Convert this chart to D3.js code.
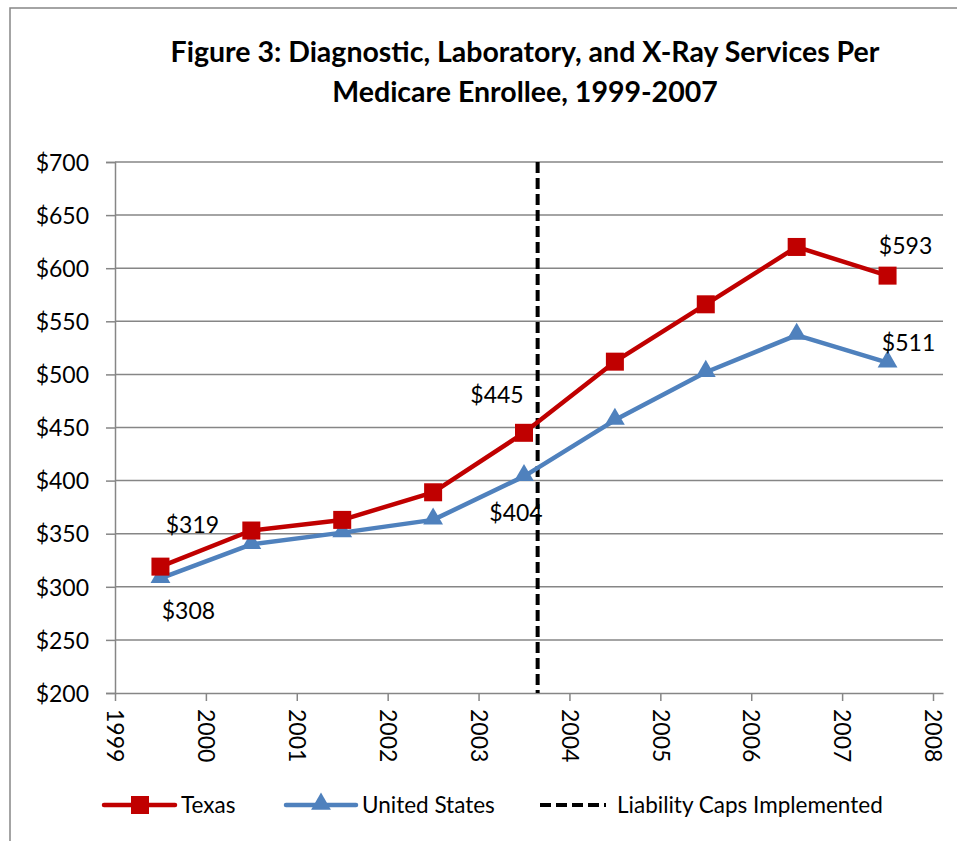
<!DOCTYPE html>
<html>
<head>
<meta charset="utf-8">
<script src="https://cdn.jsdelivr.net/npm/d3@7"></script>
<style>
  body { margin: 0; background: #fff; }
  text { font-family: Lato, "Open Sans", sans-serif; fill: #000; }
</style>
</head>
<body>
<div id="chart"></div>
<script>
// data (values plotted at mid-year)
const years = [1999, 2000, 2001, 2002, 2003, 2004, 2005, 2006, 2007];
const texas = [319, 353, 363, 389, 445, 512, 566, 620, 593];
const unitedStates = [308, 340, 351, 363, 404, 457, 502, 537, 511];
const yTicks = [200, 250, 300, 350, 400, 450, 500, 550, 600, 650, 700];
const xTicks = [1999, 2000, 2001, 2002, 2003, 2004, 2005, 2006, 2007, 2008];
const capsYear = 2003.65;
// which points get a value label: [index, dx, dy]
const texasLabels = [[0, 32, -42], [4, -27, -38], [8, 18, -30]];
const usLabels = [[0, 28, 32], [4, -8, 36], [8, 21, -20]];

const W = 957, H = 841;
const margin = { top: 162, right: 14, bottom: 148, left: 115 };
const width = W - margin.left - margin.right,
  height = H - margin.top - margin.bottom;

const svg = d3.select("#chart")
  .append("svg")
  .attr("width", W)
  .attr("height", H);

// outer chart frame (cut at right/bottom like the picture)
svg.append("rect")
  .attr("x", 10).attr("y", 8)
  .attr("width", W + 20).attr("height", H + 20)
  .attr("fill", "none")
  .attr("stroke", "#868686")
  .attr("stroke-width", 1.5);

// title
const title = svg.append("text")
  .attr("text-anchor", "middle")
  .style("font-size", "28.5px")
  .style("font-weight", "bold");
title.append("tspan").attr("x", 525).attr("y", 62).text("Figure 3: Diagnostic, Laboratory, and X-Ray Services Per");
title.append("tspan").attr("x", 525).attr("y", 102).text("Medicare Enrollee, 1999-2007");

const g = svg.append("g")
  .attr("transform", `translate(${margin.left},${margin.top})`);

const x = d3.scaleLinear()
  .domain([1999, 2008.11])
  .range([0, width]);
const y = d3.scaleLinear()
  .domain([200, 700])
  .range([height, 0]);

// gridlines
g.selectAll(".grid")
  .data(yTicks.slice(1))
  .enter().append("line")
  .attr("x1", 0).attr("x2", width)
  .attr("y1", d => y(d)).attr("y2", d => y(d))
  .attr("stroke", "#868686")
  .attr("stroke-width", 1.5);

// Y axis
const yAxis = g.append("g")
  .call(d3.axisLeft(y).tickValues(yTicks).tickFormat(d => "$" + d).tickSize(9).tickPadding(17));
yAxis.select(".domain").attr("stroke", "#868686").attr("stroke-width", 1.5);
yAxis.selectAll(".tick line").attr("stroke", "#868686").attr("stroke-width", 1.5);
yAxis.selectAll("text").style("font-size", "23px").attr("dy", "0.36em");

// X axis
const xAxis = g.append("g")
  .attr("transform", `translate(0, ${height})`)
  .call(d3.axisBottom(x).tickValues(xTicks).tickFormat(d3.format("d")).tickSize(8).tickSizeOuter(0));
xAxis.select(".domain").attr("stroke", "#868686").attr("stroke-width", 1.5);
xAxis.selectAll(".tick line").attr("stroke", "#868686").attr("stroke-width", 1.5);
xAxis.selectAll("text")
  .style("font-size", "23px")
  .attr("y", 0).attr("dy", "0.36em")
  .attr("text-anchor", "start")
  .attr("transform", "translate(0,16) rotate(90)");

// liability caps line
g.append("line")
  .attr("x1", x(capsYear)).attr("x2", x(capsYear))
  .attr("y1", 0).attr("y2", height)
  .attr("stroke", "#000")
  .attr("stroke-width", 4)
  .attr("stroke-dasharray", "11,5");

const line = d3.line()
  .x((d, i) => x(years[i] + 0.5))
  .y(d => y(d));

// United States
g.append("path")
  .datum(unitedStates)
  .attr("fill", "none")
  .attr("stroke", "#4F81BD")
  .attr("stroke-width", 4.5)
  .attr("stroke-linejoin", "round")
  .attr("d", line);
g.selectAll(".tri")
  .data(unitedStates)
  .enter().append("path")
  .attr("d", d3.symbol().type(d3.symbolTriangle).size(170))
  .attr("transform", (d, i) => `translate(${x(years[i] + 0.5)},${y(d) - 1})`)
  .attr("fill", "#4F81BD");

// Texas
g.append("path")
  .datum(texas)
  .attr("fill", "none")
  .attr("stroke", "#C00000")
  .attr("stroke-width", 4.5)
  .attr("stroke-linejoin", "round")
  .attr("d", line);
g.selectAll(".sq")
  .data(texas)
  .enter().append("rect")
  .attr("x", (d, i) => x(years[i] + 0.5) - 9)
  .attr("y", d => y(d) - 9)
  .attr("width", 18).attr("height", 18)
  .attr("fill", "#C00000");

// value labels
function addLabels(series, labels) {
  labels.forEach(l => {
    g.append("text")
      .attr("x", x(years[l[0]] + 0.5) + l[1])
      .attr("y", y(series[l[0]]) + l[2])
      .attr("text-anchor", "middle")
      .attr("dy", "0.36em")
      .style("font-size", "23px")
      .text("$" + series[l[0]]);
  });
}
addLabels(texas, texasLabels);
addLabels(unitedStates, usLabels);

// Handmade legend
const legend = svg.append("g").attr("transform", "translate(0,805)");
legend.append("line").attr("x1", 104).attr("x2", 175).attr("stroke", "#C00000").attr("stroke-width", 4.5).attr("stroke-linecap", "round");
legend.append("rect").attr("x", 131).attr("y", -9).attr("width", 18).attr("height", 18).attr("fill", "#C00000");
legend.append("text").attr("x", 181).attr("dy", "0.36em").style("font-size", "22.5px").text("Texas");

legend.append("line").attr("x1", 286).attr("x2", 356).attr("stroke", "#4F81BD").attr("stroke-width", 4.5).attr("stroke-linecap", "round");
legend.append("path").attr("d", d3.symbol().type(d3.symbolTriangle).size(170)).attr("transform", "translate(321,-1)").attr("fill", "#4F81BD");
legend.append("text").attr("x", 362).attr("dy", "0.36em").style("font-size", "22.5px").text("United States");

legend.append("line").attr("x1", 540).attr("x2", 606).attr("stroke", "#000").attr("stroke-width", 4).attr("stroke-dasharray", "11,5");
legend.append("text").attr("x", 617).attr("dy", "0.36em").style("font-size", "22.5px").text("Liability Caps Implemented");
</script>
</body>
</html>
